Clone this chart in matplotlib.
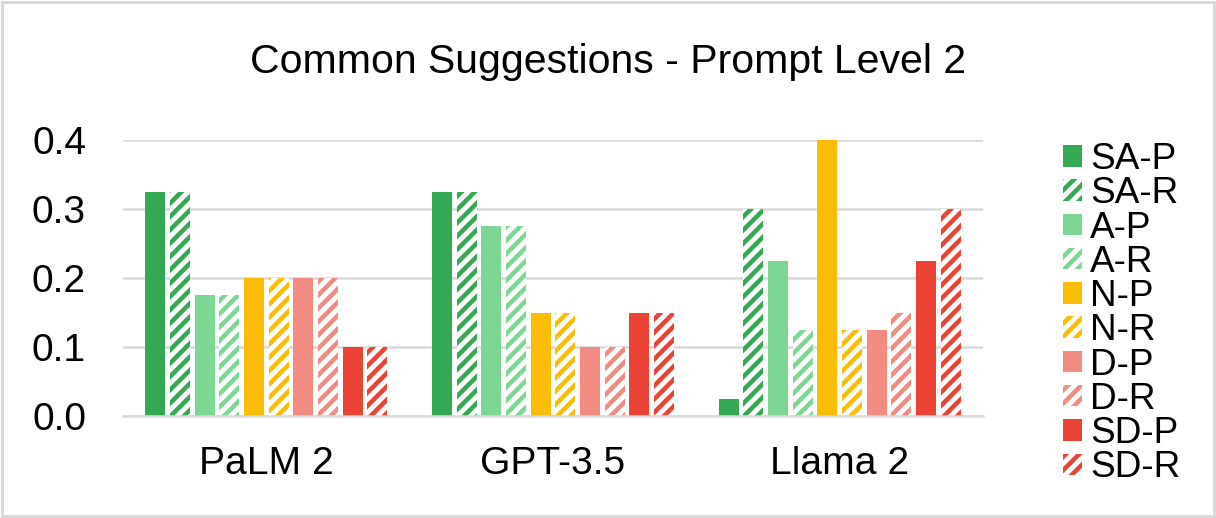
"""
Common Suggestions - Prompt Level 2: grouped bars, precision solid / recall hatched.
"""

import numpy as np
import matplotlib
matplotlib.use("Agg")
import matplotlib.pyplot as plt
from matplotlib.patches import Rectangle

# ---- data -------------------------------------------------------------
models = ["PaLM 2", "GPT-3.5", "Llama 2"]
series = ["SA-P", "SA-R", "A-P", "A-R", "N-P", "N-R", "D-P", "D-R", "SD-P", "SD-R"]
values = {
    "SA-P": [0.325, 0.325, 0.025],
    "SA-R": [0.325, 0.325, 0.300],
    "A-P":  [0.175, 0.275, 0.225],
    "A-R":  [0.175, 0.275, 0.125],
    "N-P":  [0.200, 0.150, 0.400],
    "N-R":  [0.200, 0.150, 0.125],
    "D-P":  [0.200, 0.100, 0.125],
    "D-R":  [0.200, 0.100, 0.150],
    "SD-P": [0.100, 0.150, 0.225],
    "SD-R": [0.100, 0.150, 0.300],
}
yticks = [0.0, 0.1, 0.2, 0.3, 0.4]

colors = {"SA": "#34a853", "A": "#7ed694", "N": "#fbbc04", "D": "#f28b82", "SD": "#ea4335"}

# ---- figure -----------------------------------------------------------
DPI = 160
PT = 72.0 / DPI  # px -> pt

plt.rcParams["font.family"] = ["Liberation Sans", "DejaVu Sans"]
plt.rcParams["hatch.linewidth"] = 4.5 * PT

fig = plt.figure(figsize=(1216 / DPI, 518 / DPI), dpi=DPI)
ax = fig.add_axes([123 / 1216, 1 - 416 / 518, 860 / 1216, 276 / 518])

x = np.arange(len(models))
step = 0.086
width = 0.0697
for i, name in enumerate(series):
    key, kind = name.rsplit("-", 1)
    c = colors[key]
    pos = x + (i - 4.5) * step
    if kind == "P":
        ax.bar(pos, values[name], width, color=c, linewidth=0, label=name, zorder=3)
    else:
        ax.bar(pos, values[name], width, facecolor="white", edgecolor=c,
               hatch="////", linewidth=0, label=name, zorder=3)

ax.set_xlim(-0.5, 2.5)
ax.set_ylim(0, 0.4)
ax.set_yticks(yticks)
ax.set_yticklabels([f"{v:.1f}" for v in yticks])
ax.set_xticks(x)
ax.set_xticklabels(models)
ax.tick_params(axis="y", length=0, pad=37 * PT, labelsize=39 * PT)
ax.tick_params(axis="x", length=0, pad=30 * PT, labelsize=39 * PT)
ax.yaxis.grid(True, color="#d9d9d9", linewidth=2.5 * PT, zorder=0)
ax.set_axisbelow(True)
for side in ["left", "right", "top"]:
    ax.spines[side].set_visible(False)
ax.spines["bottom"].set_color("#d9d9d9")
ax.spines["bottom"].set_linewidth(2.5 * PT)
ax.spines["bottom"].set_zorder(4)

fig.text(0.5, 1 - 62 / 518, "Common Suggestions - Prompt Level 2",
         ha="center", va="center", fontsize=41 * PT)

leg_px = 37
fig.legend(loc="upper left", bbox_to_anchor=(1063 / 1216, 1 - 142 / 518),
           frameon=False, fontsize=leg_px * PT, borderpad=0, borderaxespad=0,
           handlelength=19 / leg_px, handleheight=19 / leg_px,
           handletextpad=8 / leg_px, labelspacing=-0.02)

fig.patches.append(Rectangle((0.002, 0.003), 0.996, 0.994, transform=fig.transFigure,
                             fill=False, edgecolor="#d9d9d9", linewidth=3 * PT))

fig.savefig("out.png", dpi=DPI)
